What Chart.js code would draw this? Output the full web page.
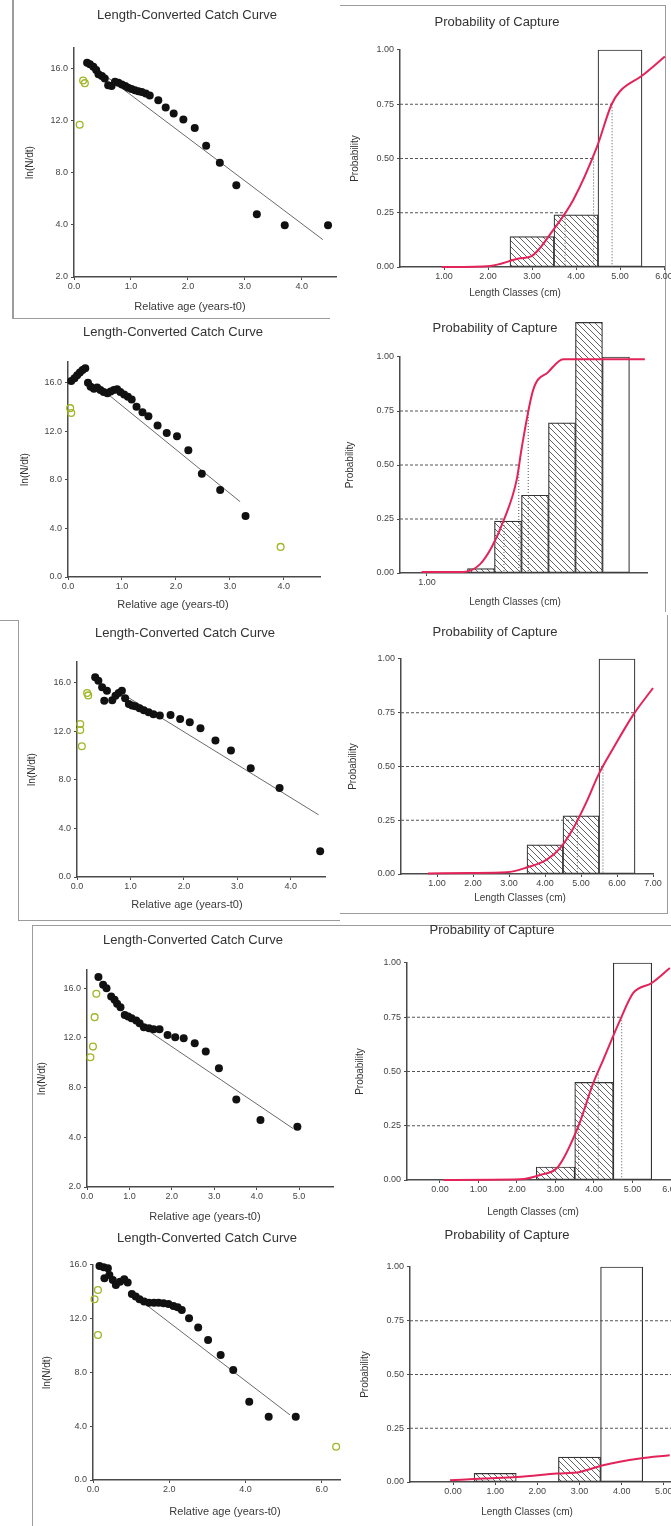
<!DOCTYPE html>
<html>
<head>
<meta charset="utf-8">
<title>Catch curves and probability of capture</title>
<script src="https://cdn.jsdelivr.net/npm/chart.js@4.4.1/dist/chart.umd.min.js"></script>
<style>
  html, body { margin: 0; padding: 0; background: #fff; }
  body { position: relative; width: 671px; height: 1526px; overflow: hidden; }
  canvas { position: absolute; }
  .frame { position: absolute; box-sizing: border-box; border: 0 solid #9c9c9c; }
</style>
</head>
<body>
<!-- screenshot frames -->
<div class="frame" style="left:12px;top:0;width:318px;height:319px;border-left-width:2px;border-bottom-width:1px"></div>
<div class="frame" style="left:340px;top:5px;width:326px;height:607px;border-top-width:1px;border-right-width:1px"></div>
<div class="frame" style="left:0;top:620px;width:19px;height:1px;border-top-width:1px"></div>
<div class="frame" style="left:18px;top:620px;width:322px;height:301px;border-left-width:1px;border-bottom-width:1px"></div>
<div class="frame" style="left:340px;top:615px;width:328px;height:299px;border-right-width:1px;border-bottom-width:1px"></div>
<div class="frame" style="left:32px;top:925px;width:660px;height:700px;border-top-width:1px;border-left-width:1px"></div>

<script>
"use strict";
let $ = function (id) {return document.getElementById(id);}

// ---------- catch curves: relative age (years-t0) vs ln(N/dt)
const cc1Age = [0.23,0.28,0.34,0.39,0.43,0.49,0.54,0.6,0.66,0.72,0.78,0.84,0.9,0.95,1.01,1.07,1.13,1.19,1.26,1.33,1.48,1.61,1.75,1.92,2.12,2.32,2.56,2.85,3.21,3.7,4.46];
const cc1Ln  = [16.46,16.36,16.15,15.9,15.59,15.44,15.26,14.74,14.67,15.0,14.92,14.79,14.67,14.54,14.44,14.36,14.28,14.21,14.1,13.95,13.59,13.03,12.56,12.1,11.46,10.08,8.79,7.05,4.82,3.97,3.97];
const cc1OutAge = [0.16,0.19,0.1];
const cc1OutLn  = [15.1,14.9,11.7];
const cc1FitAge = [0.45,4.37];
const cc1FitLn  = [15.8,2.87];

const cc2Age = [0.06,0.12,0.17,0.22,0.27,0.32,0.37,0.42,0.48,0.54,0.6,0.66,0.73,0.79,0.85,0.91,0.97,1.04,1.11,1.18,1.27,1.38,1.49,1.66,1.83,2.02,2.23,2.48,2.82,3.29];
const cc2Ln  = [16.14,16.36,16.61,16.83,17.05,17.19,16.0,15.67,15.5,15.61,15.39,15.23,15.12,15.28,15.39,15.45,15.23,15.03,14.84,14.62,14.01,13.57,13.24,12.47,11.86,11.59,10.43,8.5,7.17,5.02];
const cc2OutAge = [0.04,0.06,3.94];
const cc2OutLn  = [13.9,13.5,2.48];
const cc2FitAge = [0.6,3.19];
const cc2FitLn  = [15.55,6.2];

const cc3Age = [0.34,0.4,0.47,0.51,0.56,0.66,0.72,0.78,0.84,0.9,0.97,1.03,1.09,1.17,1.25,1.34,1.43,1.55,1.75,1.93,2.11,2.31,2.59,2.88,3.25,3.79,4.55];
const cc3Ln  = [16.44,16.16,15.62,14.52,15.34,14.55,14.93,15.15,15.34,14.71,14.25,14.11,14.05,13.89,13.73,13.56,13.4,13.29,13.34,13.01,12.74,12.25,11.23,10.41,8.96,7.32,2.11];
const cc3OutAge = [0.19,0.21,0.06,0.06,0.09];
const cc3OutLn  = [15.15,14.95,12.6,12.1,10.77];
const cc3FitAge = [0.9,4.52];
const cc3FitLn  = [14.94,5.12];

const cc4Age = [0.27,0.38,0.46,0.57,0.65,0.71,0.79,0.89,0.97,1.05,1.16,1.24,1.34,1.46,1.57,1.71,1.9,2.08,2.28,2.54,2.8,3.11,3.52,4.09,4.96];
const cc4Ln  = [16.88,16.26,15.99,15.32,15.05,14.73,14.46,13.84,13.71,13.58,13.39,13.17,12.85,12.77,12.69,12.69,12.23,12.04,11.96,11.56,10.89,9.54,7.04,5.38,4.84];
const cc4OutAge = [0.22,0.18,0.14,0.08];
const cc4OutLn  = [15.54,13.66,11.29,10.43];
const cc4FitAge = [1.1,4.86];
const cc4FitLn  = [13.36,4.7];

const cc5Age = [0.17,0.28,0.39,0.3,0.43,0.52,0.6,0.71,0.82,0.91,1.02,1.12,1.22,1.34,1.47,1.6,1.72,1.85,1.98,2.11,2.22,2.33,2.52,2.76,3.02,3.35,3.68,4.1,4.61,5.32];
const cc5Ln  = [15.93,15.83,15.76,15.01,15.26,14.89,14.52,14.76,14.94,14.69,13.85,13.65,13.45,13.28,13.2,13.2,13.2,13.15,13.1,12.95,12.85,12.66,12.03,11.34,10.42,9.31,8.19,5.83,4.71,4.71];
const cc5OutAge = [0.13,0.04,0.13,6.38];
const cc5OutLn  = [14.14,13.45,10.79,2.48];
const cc5FitAge = [1.0,5.17];
const cc5FitLn  = [13.9,4.84];

// ---------- probability of capture: length classes (cm)
const pc1HatchX = [3,4];     const pc1HatchY = [0.14,0.24];
const pc1OpenX  = [5];       const pc1OpenY  = [1.0];
const pc1CurveX = [0.95,2.05,2.73,2.99,3.48,3.94,4.47,4.81,5.0,5.49,6.02];
const pc1CurveY = [0,0.005,0.04,0.05,0.17,0.31,0.55,0.75,0.81,0.88,0.97];
const pc1LevelX = [3.75,4.4,4.82];

const pc2HatchX = [3,4,5,6,7];  const pc2HatchY = [0.02,0.24,0.36,0.695,1.16];
const pc2OpenX  = [8];          const pc2OpenY  = [1.0];
const pc2CurveX = [0.8,2.35,2.96,3.4,3.83,4.32,4.51,4.94,5.49,6.05,9.07];
const pc2CurveY = [0.005,0.005,0.04,0.12,0.24,0.43,0.58,0.85,0.93,0.99,0.99];
const pc2LevelX = [3.85,4.4,4.75];

const pc3HatchX = [4,5];     const pc3HatchY = [0.136,0.27];
const pc3OpenX  = [6];       const pc3OpenY  = [1.0];
const pc3CurveX = [0.75,1.92,2.94,3.49,4.05,4.42,4.79,5.16,5.48,5.9,6.45,7.0];
const pc3CurveY = [0.002,0.005,0.008,0.03,0.067,0.12,0.214,0.338,0.46,0.586,0.74,0.865];
const pc3LevelX = [4.9,5.61,6.49];

const pc4HatchX = [3,4];     const pc4HatchY = [0.06,0.45];
const pc4OpenX  = [5];       const pc4OpenY  = [1.0];
const pc4CurveX = [0.09,2.08,2.6,3.07,3.59,3.98,4.24,4.68,5.02,5.5,5.97];
const pc4CurveY = [0,0.003,0.023,0.062,0.246,0.446,0.554,0.738,0.862,0.908,0.977];
const pc4LevelX = [3.6,4.11,4.72];

const pc5HatchX = [1,3];     const pc5HatchY = [0.04,0.116];
const pc5OpenX  = [4];       const pc5OpenY  = [1.0];
const pc5CurveX = [-0.07,0.72,1.51,2.46,3.01,3.56,4.43,5.14];
const pc5CurveY = [0.008,0.016,0.023,0.039,0.047,0.078,0.109,0.124];
const pc5LevelX = [null,null,null];   // lines run to the edge, curve never reaches them

const probLevels = [0.25,0.5,0.75];

// ---------- tick values and labels
const ccYTicks = [0,4,8,12,16];
const ccYLabelsA = ['2.0','4.0','8.0','12.0','16.0'];
const ccYLabelsB = ['0.0','4.0','8.0','12.0','16.0'];
const ccXTicks4 = [0,1,2,3,4];
const ccXLabels4 = ['0.0','1.0','2.0','3.0','4.0'];
const ccXTicks5 = [0,1,2,3,4,5];
const ccXLabels5 = ['0.0','1.0','2.0','3.0','4.0','5.0'];
const ccXTicks6 = [0,2,4,6];
const ccXLabels6 = ['0.0','2.0','4.0','6.0'];
const pcYTicks = [0,0.25,0.5,0.75,1];
const pcYLabels = ['0.00','0.25','0.50','0.75','1.00'];
const pcXTicks1 = [1,2,3,4,5,6];
const pcXTicks2 = [1];
const pcXTicks3 = [1,2,3,4,5,6,7];
const pcXTicks4 = [0,1,2,3,4,5,6];
const pcXTicks5 = [0,1,2,3,4,5];

// ---------- where each panel sits on the page (canvas box, plot area, text anchors)
const place = {
  cc1: {box: [14, 4, 328, 312],   area: [74, 48, 336, 277],     title: [187, 15],   xTitle: [190, 307],  yTitleX: 30},
  cc2: {box: [0, 322, 342, 290],  area: [68, 362, 320, 577],    title: [173, 332],  xTitle: [173, 605],  yTitleX: 25},
  cc3: {box: [20, 622, 322, 292], area: [77, 662, 325, 877],    title: [185, 633],  xTitle: [187, 905],  yTitleX: 32},
  cc4: {box: [34, 927, 308, 296], area: [87, 970, 333, 1187],   title: [193, 940],  xTitle: [205, 1217], yTitleX: 42},
  cc5: {box: [36, 1228, 310, 298],area: [93, 1265, 345, 1480],  title: [207, 1238], xTitle: [225, 1512], yTitleX: 47},
  pc1: {box: [344, 8, 327, 296],  area: [400, 50, 664, 267],    title: [497, 22],   xTitle: [515, 293],  yTitleX: 355},
  pc2: {box: [344, 306, 327, 304],area: [400, 357, 647, 573],   title: [495, 328],  xTitle: [515, 602],  yTitleX: 350},
  pc3: {box: [344, 615, 327, 298],area: [401, 659, 653, 874],   title: [495, 632],  xTitle: [520, 898],  yTitleX: 353},
  pc4: {box: [344, 918, 327, 302],area: [407, 963, 671, 1180],  title: [492, 930],  xTitle: [533, 1212], yTitleX: 360},
  pc5: {box: [344, 1222, 327, 304],area: [410, 1267, 671, 1482],title: [507, 1235], xTitle: [527, 1512], yTitleX: 365}
};

// axis ranges
const range = {
  cc1: {x: [0, 4.6],  y: [0, 17.6]},
  cc2: {x: [0, 4.67], y: [0, 17.7]},
  cc3: {x: [0, 4.64], y: [0, 17.7]},
  cc4: {x: [0, 5.8],  y: [0, 17.45]},
  cc5: {x: [0, 6.5],  y: [0, 16]},
  pc1: {x: [0, 6],    y: [0, 1]},
  pc2: {x: [0, 9.15], y: [0, 1]},
  pc3: {x: [0, 7],    y: [0, 1]},
  pc4: {x: [-0.857, 6], y: [0, 1]},
  pc5: {x: [-1.02, 5.17], y: [0, 1]}
};

Chart.defaults.font.family = "'Liberation Sans', Arial, sans-serif";
Chart.defaults.color = '#3a3a3a';

const zip = (xs, ys) => xs.map((x, i) => ({x: x, y: ys[i]}));

// moves the chart title to a given x and writes the x axis caption
const panelText = {
  id: 'panelText',
  afterLayout(chart, args, opts) {
    const t = chart.titleBlock;
    if (t && opts.titleX != null) {
      const half = (t.right - t.left) / 2;
      t.left = opts.titleX - half;
      t.right = opts.titleX + half;
    }
  },
  afterDraw(chart, args, opts) {
    if (!opts.xText) return;
    const ctx = chart.ctx;
    ctx.save();
    ctx.font = opts.size + "px 'Liberation Sans', Arial, sans-serif";
    ctx.fillStyle = '#3a3a3a';
    ctx.textAlign = 'center';
    ctx.textBaseline = 'middle';
    ctx.fillText(opts.xText, opts.x, opts.y);
    ctx.restore();
  }
};
Chart.register(panelText);

// diagonal hatching for the selected classes
let hatchPattern = function () {
  const c = document.createElement('canvas');
  c.width = 6; c.height = 6;
  const g = c.getContext('2d');
  g.fillStyle = '#fff';
  g.fillRect(0, 0, 6, 6);
  g.strokeStyle = '#505050';
  g.lineWidth = 0.9;
  g.beginPath();
  g.moveTo(-1, -1); g.lineTo(7, 7);
  g.moveTo(-4, 2); g.lineTo(4, 10);
  g.moveTo(2, -4); g.lineTo(10, 4);
  g.stroke();
  return g.createPattern(c, 'repeat');
}();

let build = function (id, text, ticks, datasets) {
  const p = place[id], rg = range[id];
  const [cx, cy, cw, ch] = p.box;
  const [l, t, r, b] = p.area;
  const c = document.createElement('canvas');
  c.id = id;
  c.width = cw; c.height = ch;
  c.style.left = cx + 'px';
  c.style.top = cy + 'px';
  document.body.appendChild(c);

  const lh = 13 * 1.2;
  const tTop = p.title[1] - cy - lh / 2;
  const axisColor = '#4a4a4a';

  return new Chart(c, {
    type: 'scatter',
    data: {datasets: datasets},
    options: {
      responsive: false,
      animation: false,
      devicePixelRatio: 1,
      events: [],
      layout: {padding: {left: 0, top: 0, right: cx + cw - r, bottom: 0}},
      plugins: {
        legend: {display: false},
        tooltip: {enabled: false},
        title: {
          display: true, text: text.title, color: '#333',
          font: {size: 13, weight: 'normal'},
          padding: {top: tTop, bottom: t - cy - tTop - lh}
        },
        panelText: {titleX: p.title[0] - cx, xText: text.x, x: p.xTitle[0] - cx, y: p.xTitle[1] - cy, size: text.xSize}
      },
      scales: {
        x: {
          type: 'linear', min: rg.x[0], max: rg.x[1], offset: false,
          border: {color: axisColor, width: 1.5},
          grid: {drawOnChartArea: false, tickLength: 3, color: axisColor, offset: false},
          ticks: {autoSkip: false, maxRotation: 0, padding: 1, font: {size: 9}, color: '#444',
                  callback: (v, i) => ticks.xLabels[i]},
          afterBuildTicks: s => { s.ticks = ticks.x.map(v => ({value: v})); },
          afterFit: s => { s.height = cy + ch - b; s.paddingLeft = 0; s.paddingRight = 0; }
        },
        y: {
          type: 'linear', min: rg.y[0], max: rg.y[1], offset: false,
          border: {color: axisColor, width: 1.5},
          grid: {drawOnChartArea: false, tickLength: 3, color: axisColor, offset: false},
          ticks: {autoSkip: false, padding: 3, font: {size: 9}, color: '#444',
                  callback: (v, i) => ticks.yLabels[i]},
          title: {display: true, text: text.y, color: '#333', font: {size: 10},
                  padding: {top: p.yTitleX - cx - 6, bottom: 0}},
          afterBuildTicks: s => { s.ticks = ticks.y.map(v => ({value: v})); },
          afterFit: s => { s.width = l - cx; s.paddingTop = 0; s.paddingBottom = 0; }
        }
      }
    }
  });
};

let catchSets = function (age, ln, outAge, outLn, fitAge, fitLn) {
  return [
    {data: zip(age, ln), pointRadius: 4, backgroundColor: '#111', borderColor: '#111',
     pointBackgroundColor: '#111', pointBorderWidth: 0, order: 1, clip: false},
    {data: zip(outAge, outLn), pointRadius: 3.4, backgroundColor: 'rgba(255,255,255,0)',
     borderColor: '#a2b526', pointBorderColor: '#a2b526', pointBorderWidth: 1.3, order: 0, clip: false},
    {type: 'line', data: zip(fitAge, fitLn), showLine: true, borderColor: '#6a6a6a',
     borderWidth: 1, pointRadius: 0, order: 2}
  ];
};

let probSets = function (id, hx, hy, ox, oy, curveX, curveY, levelX) {
  const rg = range[id];
  const sets = [
    {type: 'line', data: zip(curveX, curveY), showLine: true, borderColor: '#e2245a', borderWidth: 2,
     pointRadius: 0, cubicInterpolationMode: 'monotone', order: 0, clip: false}
  ];
  probLevels.forEach((lv, i) => {
    const xe = levelX[i] == null ? rg.x[1] : levelX[i];
    sets.push({type: 'line', data: [{x: rg.x[0], y: lv}, {x: xe, y: lv}], showLine: true,
               borderColor: '#555', borderWidth: 1, borderDash: [3, 2], pointRadius: 0, order: 1});
    if (levelX[i] != null) {
      sets.push({type: 'line', data: [{x: xe, y: lv}, {x: xe, y: 0}], showLine: true,
                 borderColor: '#555', borderWidth: 1, borderDash: [1, 2], pointRadius: 0, order: 1});
    }
  });
  sets.push({type: 'bar', data: zip(hx, hy), backgroundColor: hatchPattern, borderColor: '#333',
             borderWidth: 1.2, borderSkipped: false, grouped: false, barPercentage: 1,
             categoryPercentage: 1, order: 2, clip: false});
  sets.push({type: 'bar', data: zip(ox, oy), backgroundColor: '#fff', borderColor: '#333',
             borderWidth: 1.2, borderSkipped: false, grouped: false, barPercentage: 1,
             categoryPercentage: 1, order: 3, clip: false});
  return sets;
};

const ccText = {title: 'Length-Converted Catch Curve', x: 'Relative age (years-t0)', y: 'ln(N/dt)', xSize: 11};
const pcText = {title: 'Probability of Capture', x: 'Length Classes (cm)', y: 'Probability', xSize: 10};
const pcX = vals => vals.map(v => v.toFixed(2));

build('cc1', ccText, {x: ccXTicks4, xLabels: ccXLabels4, y: ccYTicks, yLabels: ccYLabelsA},
      catchSets(cc1Age, cc1Ln, cc1OutAge, cc1OutLn, cc1FitAge, cc1FitLn));
build('cc2', ccText, {x: ccXTicks4, xLabels: ccXLabels4, y: ccYTicks, yLabels: ccYLabelsB},
      catchSets(cc2Age, cc2Ln, cc2OutAge, cc2OutLn, cc2FitAge, cc2FitLn));
build('cc3', ccText, {x: ccXTicks4, xLabels: ccXLabels4, y: ccYTicks, yLabels: ccYLabelsB},
      catchSets(cc3Age, cc3Ln, cc3OutAge, cc3OutLn, cc3FitAge, cc3FitLn));
build('cc4', ccText, {x: ccXTicks5, xLabels: ccXLabels5, y: ccYTicks, yLabels: ccYLabelsA},
      catchSets(cc4Age, cc4Ln, cc4OutAge, cc4OutLn, cc4FitAge, cc4FitLn));
build('cc5', ccText, {x: ccXTicks6, xLabels: ccXLabels6, y: ccYTicks, yLabels: ccYLabelsB},
      catchSets(cc5Age, cc5Ln, cc5OutAge, cc5OutLn, cc5FitAge, cc5FitLn));

build('pc1', pcText, {x: pcXTicks1, xLabels: pcX(pcXTicks1), y: pcYTicks, yLabels: pcYLabels},
      probSets('pc1', pc1HatchX, pc1HatchY, pc1OpenX, pc1OpenY, pc1CurveX, pc1CurveY, pc1LevelX));
build('pc2', pcText, {x: pcXTicks2, xLabels: pcX(pcXTicks2), y: pcYTicks, yLabels: pcYLabels},
      probSets('pc2', pc2HatchX, pc2HatchY, pc2OpenX, pc2OpenY, pc2CurveX, pc2CurveY, pc2LevelX));
build('pc3', pcText, {x: pcXTicks3, xLabels: pcX(pcXTicks3), y: pcYTicks, yLabels: pcYLabels},
      probSets('pc3', pc3HatchX, pc3HatchY, pc3OpenX, pc3OpenY, pc3CurveX, pc3CurveY, pc3LevelX));
build('pc4', pcText, {x: pcXTicks4, xLabels: pcX(pcXTicks4), y: pcYTicks, yLabels: pcYLabels},
      probSets('pc4', pc4HatchX, pc4HatchY, pc4OpenX, pc4OpenY, pc4CurveX, pc4CurveY, pc4LevelX));
build('pc5', pcText, {x: pcXTicks5, xLabels: pcX(pcXTicks5), y: pcYTicks, yLabels: pcYLabels},
      probSets('pc5', pc5HatchX, pc5HatchY, pc5OpenX, pc5OpenY, pc5CurveX, pc5CurveY, pc5LevelX));
</script>
</body>
</html>
